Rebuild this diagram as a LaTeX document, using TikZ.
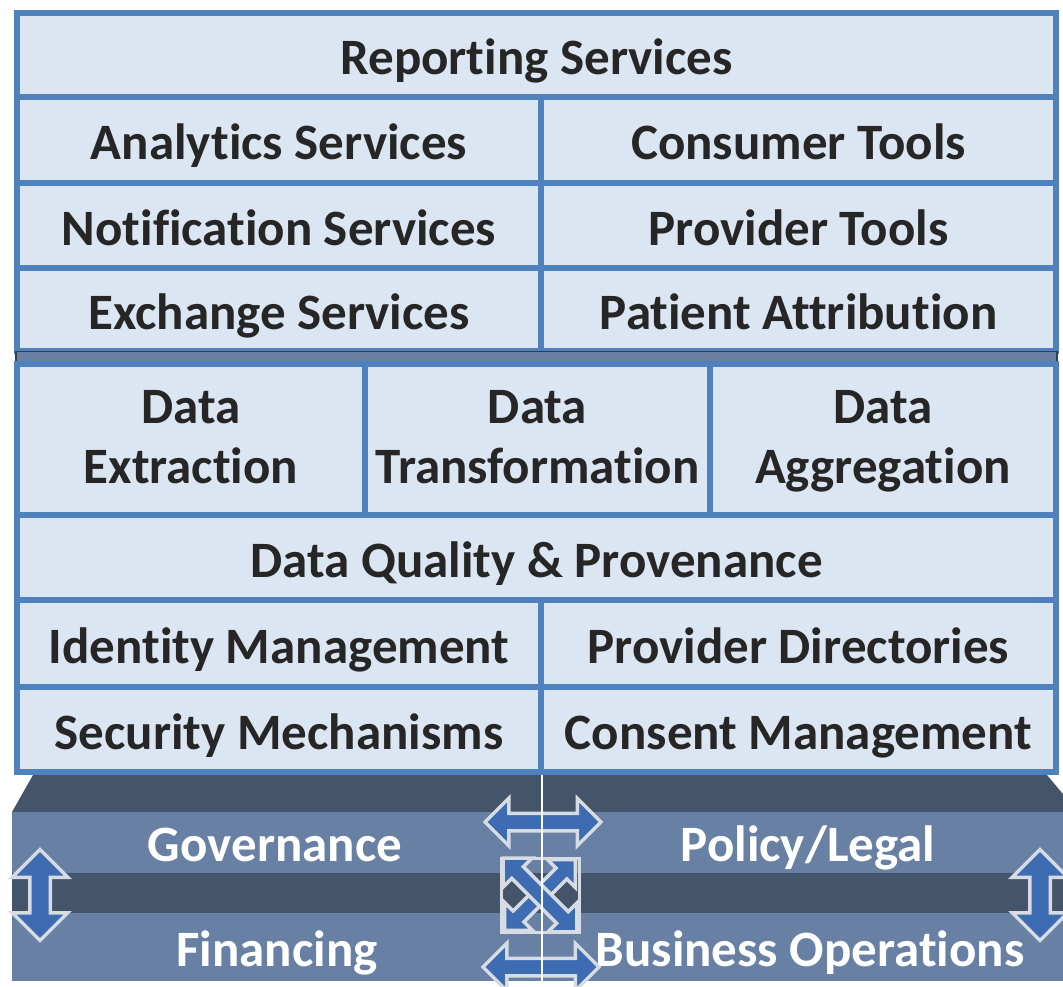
\documentclass[tikz,border=0pt]{standalone}
\usepackage{fontspec}
\setmainfont{Carlito}[RawFeature={-liga;-clig;-calt;-rlig}]
\usetikzlibrary{shapes.arrows}
\definecolor{framebl}{RGB}{79,129,189}
\definecolor{cellbl}{RGB}{220,230,242}
\definecolor{celltxt}{RGB}{38,38,38}
\definecolor{slate}{RGB}{68,84,106}
\definecolor{slatelt}{RGB}{104,128,163}
\definecolor{sepbl}{RGB}{106,128,162}
\definecolor{sepdark}{RGB}{50,62,80}
\definecolor{arrbl}{RGB}{62,108,178}
\definecolor{arredge}{RGB}{214,219,228}

\begin{document}
\begin{tikzpicture}[x=1pt, y=-1pt, line join=miter,
  font=\fontsize{51}{60}\selectfont\bfseries,
  cellbase/.style={draw=framebl, line width=6pt, fill=cellbl, text=celltxt, inner sep=0pt, align=center},
  cell/.style={cellbase, text height=40pt, text depth=0pt},
  datacell/.style={cellbase, text height=100pt, text depth=12pt},
  platetxt/.style={text=white, anchor=base},
  dbl/.style={double arrow, fill=arrbl, draw=arredge, line width=3.5pt, inner xsep=0pt}]
  \useasboundingbox (0,0) rectangle (1063,987);
  \clip (0,0) rectangle (1063,987);
  %--- Platform
    \fill[slate] (33,775) -- (1047,775) -- (1078,812) -- (12,812) -- cycle;
    \fill[slatelt] (12,812) rectangle (1070,981);
    \fill[slate] (12,873) rectangle (1070,913);
  %--- Services
    \node[cell, minimum width=1039, minimum height=84] (rep) at (536.5,55) {Reporting Services};
    \node[cell, minimum width=524, minimum height=86] (ana) at (279,140) {Analytics Services};
    \node[cell, minimum width=515, minimum height=86] (cons) at (798.5,140) {Consumer Tools};
    \node[cell, minimum width=524, minimum height=85] (noti) at (279,225.5) {Notification Services};
    \node[cell, minimum width=515, minimum height=85] (prov) at (798.5,225.5) {Provider Tools};
    \node[cell, minimum width=524, minimum height=83] (exch) at (279,309.5) {Exchange Services};
    \node[cell, minimum width=515, minimum height=83] (patt) at (798.5,309.5) {Patient Attribution};
  % Separator
    \node[draw=sepdark, fill=sepbl, line width=1.5pt, minimum width=1041, minimum height=12, inner sep=0pt] (band) at (536.5,357.5) {};
  %--- Data
    \node[datacell, minimum width=348, minimum height=151] (dext) at (191,439.5) {Data\\Extraction};
    \node[datacell, minimum width=345, minimum height=151] (dtra) at (537.5,439.5) {Data\\Transformation};
    \node[datacell, minimum width=346, minimum height=151] (dagg) at (883,439.5) {Data\\Aggregation};
    \node[cell, minimum width=1039, minimum height=85] (dqp) at (536.5,557.5) {Data Quality \& Provenance};
  %--- Identity & security
    \node[cell, minimum width=524, minimum height=87] (idm) at (279,643.5) {Identity Management};
    \node[cell, minimum width=515, minimum height=87] (pdir) at (798.5,643.5) {Provider Directories};
    \node[cell, minimum width=524, minimum height=85] (secm) at (279,729.5) {Security Mechanisms};
    \node[cell, minimum width=515, minimum height=85] (cmgt) at (798.5,729.5) {Consent Management};
  %--- Platform texts
    \node[platetxt] (gov) at (275,861) {Governance};
    \node[platetxt] (pol) at (808,861) {Policy/Legal};
    \node[platetxt] (fin) at (277,966) {Financing};
    \node[platetxt] (bops) at (810,966) {Business Operations};
  % Arrows
    \node[dbl, minimum height=116, inner ysep=7, double arrow head extend=15] (tarr) at (543,822) {};
    \node[dbl, minimum height=116, inner ysep=7, double arrow head extend=15] (barr) at (541,967) {};
    \node[dbl, minimum height=91, inner ysep=8.5, double arrow head extend=17.5, rotate=90] (larr) at (40,895) {};
    \node[dbl, minimum height=91, inner ysep=8.5, double arrow head extend=17.5, rotate=90] (rarr) at (1040,895) {};
    \node[draw=arredge, line width=3pt, minimum width=78, minimum height=74, inner sep=0pt] (xbox) at (540,895) {};
    \node[dbl, minimum height=100, inner ysep=6, double arrow head extend=12, rotate=45] (xne) at (xbox) {};
    \node[dbl, minimum height=104, inner ysep=6.5, double arrow head extend=12, rotate=-45] (xnw) at (xbox) {};
    \coordinate (split) at (542,775);
    \draw[white, line width=1.5pt] (split) -- (split |- 0,987);
\end{tikzpicture}
\end{document}
